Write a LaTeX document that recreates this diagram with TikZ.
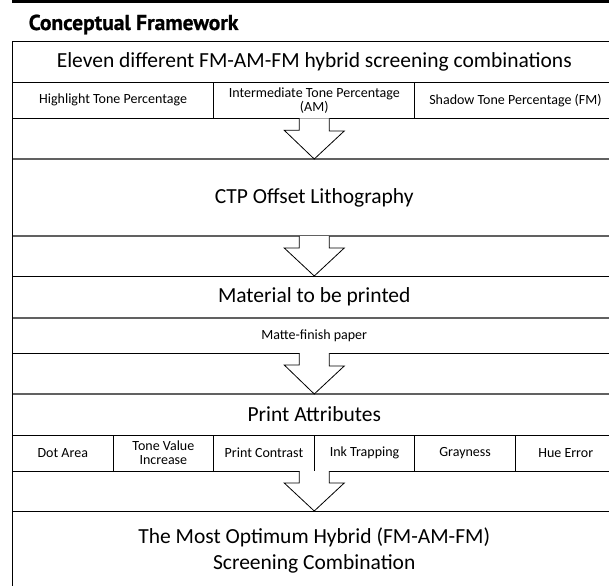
\documentclass[tikz,border=0pt]{standalone}
\usepackage{fontspec}
\setmainfont{Carlito}
\newfontfamily\titlefont[FakeBold=0.8]{PT Sans}
\usetikzlibrary{calc}

% block arrow drawn from the bottom of one row to the top of the next
\newcommand\flowarrow[2]{%
  \fill[white] ([xshift=-15pt]#1) -- ++(0,12) -- ++(-15,0) -- (#2)
     -- ++(30,-28) -- ++(-15,0) -- ([xshift=15pt]#1) -- cycle;
  \draw[arrowline] ([xshift=-15pt]#1) -- ++(0,12) -- ++(-15,0) -- (#2)
     -- ++(30,-28) -- ++(-15,0) -- ([xshift=15pt]#1);
}

\begin{document}
\begin{tikzpicture}[x=1pt,y=-1pt,
  row/.style={anchor=north west, inner sep=0pt, outer sep=0pt,
    minimum width=603.5pt, align=center,
    font=\fontsize{21.5}{26}\selectfont},
  cell/.style={anchor=north west, inner sep=0pt, outer sep=0pt,
    align=center, font=\fontsize{14}{14}\selectfont},
  smallrow/.style={row, font=\fontsize{14}{14}\selectfont},
  rule/.style={black, line width=1pt},
  greyrule/.style={black!62, line width=1.5pt},
  arrowline/.style={black, line width=0.8pt, line join=miter},
  titletext/.style={anchor=base west, inner sep=0pt,
    font=\titlefont\bfseries\fontsize{21.5}{21.5}\selectfont}
]
\useasboundingbox (0,0) rectangle (609,585);
\clip (0,0) rectangle (609,585);

% heading above the frame
\draw[line width=2.6pt] (12.3,1.3) -- (609,1.3);
\node[titletext] (title) at (28.5,30) {Conceptual Framework};

% rows of the frame
\node[row, minimum height=41pt] (eleven) at (12.5,41.2)
  {Eleven different FM-AM-FM hybrid screening combinations};
\node[cell, minimum width=201.17pt, minimum height=36.1pt] (highlight) at (12.5,82.2)
  {Highlight Tone Percentage};
\node[cell, minimum width=201.17pt, minimum height=36.1pt] (inter) at (213.67,82.2)
  {Intermediate Tone Percentage\\(AM)};
\node[cell, minimum width=201.17pt, minimum height=36.1pt] (shadow) at (414.83,82.2)
  {Shadow Tone Percentage (FM)};
\node[row, minimum height=77pt] (ctp) at (12.5,159) {CTP Offset Lithography};
\node[row, minimum height=42pt] (material) at (12.5,276) {Material to be printed};
\node[smallrow, minimum height=35pt] (matte) at (12.5,318) {Matte-finish paper};
\node[row, minimum height=41pt] (attrs) at (12.5,394) {Print Attributes};
\node[cell, minimum width=100.58pt, minimum height=36pt] (dot) at (12.5,435) {Dot Area};
\node[cell, minimum width=100.58pt, minimum height=36pt] (tvi) at (113.08,435) {Tone Value\\Increase};
\node[cell, minimum width=100.58pt, minimum height=36pt] (contrast) at (213.67,435) {Print Contrast};
\node[cell, minimum width=100.58pt, minimum height=36pt] (trap) at (314.25,435) {Ink Trapping};
\node[cell, minimum width=100.58pt, minimum height=36pt] (gray) at (414.83,435) {Grayness};
\node[cell, minimum width=100.58pt, minimum height=36pt] (hue) at (515.42,435) {Hue Error};
\node[row, minimum height=79pt] (optimum) at (12.5,511)
  {The Most Optimum Hybrid (FM-AM-FM)\\Screening Combination};

% horizontal rules
\draw[rule] (eleven.north west) -- (eleven.north east);
\draw[rule] (eleven.south west) -- (eleven.south east);
\draw[rule] (highlight.south west) -- (shadow.south east);
\draw[greyrule] (ctp.north west) -- (ctp.north east);
\draw[greyrule] (ctp.south west) -- (ctp.south east);
\draw[rule] (material.north west) -- (material.north east);
\draw[greyrule] (matte.north west) -- (matte.north east);
\draw[rule] (matte.south west) -- (matte.south east);
\draw[greyrule] (attrs.north west) -- (attrs.north east);
\draw[rule] (attrs.south west) -- (attrs.south east);
\draw[rule] (dot.south west) -- (hue.south east);
\draw[rule] (optimum.north west) -- (optimum.north east);

% left edge of the frame and the cell dividers
\draw[black, line width=1.2pt] (eleven.north west) -- (optimum.south west);
\foreach \c in {highlight, inter}
  \draw[rule] (\c.north east) -- (\c.south east);
\foreach \c in {dot, tvi, contrast, trap, gray}
  \draw[rule] (\c.north east) -- (\c.south east);

% block arrows between the stages
\flowarrow{inter.south}{ctp.north}
\flowarrow{ctp.south}{material.north}
\flowarrow{matte.south}{attrs.north}
\flowarrow{contrast.south east}{optimum.north}
\end{tikzpicture}
\end{document}
